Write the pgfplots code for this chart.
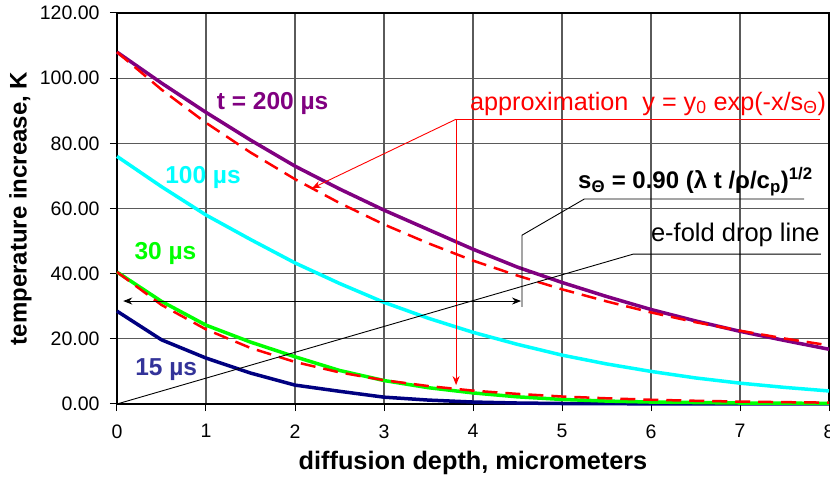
\documentclass[border=0pt]{standalone}
\usepackage{fontspec}
\setmainfont{Liberation Sans}
\usepackage{pgfplots}
\pgfplotsset{compat=1.18}
\usetikzlibrary{arrows.meta}

\definecolor{c200}{RGB}{128,0,128}
\definecolor{c100}{RGB}{0,255,255}
\definecolor{c30}{RGB}{0,255,0}
\definecolor{c15}{RGB}{0,0,128}
\definecolor{lab15}{RGB}{51,51,153}
\definecolor{gridc}{RGB}{90,90,90}

% temperature profiles, depth in micrometers
\pgfplotstableread{
x    T
0    108
0.5  98.5
1    89.5
1.5  81
2    73
2.5  66
3    59.5
3.5  53.5
4    47.5
4.5  42
5    37.3
5.5  33
6    29
6.5  25.5
7    22.3
7.5  19.5
8    16.8
}\tTwoHundred
\pgfplotstableread{
x    T
0    76
0.5  66.7
1    58
1.5  50.5
2    43.3
2.5  37
3    31.2
3.5  26.3
4    22
4.5  18.3
5    15
5.5  12.3
6    10
6.5  8
7    6.4
7.5  5.1
8    4
}\tHundred
\pgfplotstableread{
x    T
0    40.5
0.5  31.5
1    24.2
1.5  19
2    14.5
2.5  10.3
3    7.2
3.5  5
4    3.4
4.5  2.2
5    1.4
5.5  0.9
6    0.6
7    0.3
8    0.2
}\tThirty
\pgfplotstableread{
x    T
0    28.5
0.5  19.7
1    14.1
1.5  9.5
2    5.8
2.5  3.9
3    2.1
3.5  1.2
4    0.6
4.5  0.3
5    0.15
6    0.05
7    0
8    0
}\tFifteen
% exponential approximations y0 exp(-x/s)
\pgfplotstableread{
x    T
0    108
0.5  96.5
1    86.3
1.5  77.2
2    69.0
2.5  61.7
3    55.1
3.5  49.3
4    44.0
4.5  39.4
5    35.2
5.5  31.5
6    28.1
6.5  25.1
7    22.5
7.5  20.1
8    18.0
}\aTwoHundred
\pgfplotstableread{
x    T
0    40.5
0.5  30.4
1    22.9
1.5  17.2
2    12.9
2.5  9.7
3    7.3
3.5  5.5
4    4.1
4.5  3.1
5    2.3
5.5  1.75
6    1.3
6.5  0.99
7    0.74
7.5  0.56
8    0.42
}\aThirty

\begin{document}
\begin{tikzpicture}
\begin{axis}[
  name=ax,
  scale only axis, width=712pt, height=391pt,
  xmin=0, xmax=8, ymin=0, ymax=120,
  xtick={0,...,8}, ytick={0,20,...,120},
  tick pos=left,
  grid=major,
  major grid style={gridc, line width=1.1pt},
  axis line style={black, line width=1.2pt},
  tick align=outside, major tick length=7pt,
  tick style={black, line width=1pt},
  /pgf/number format/assume math mode=true,
  ticklabel style={font=\fontsize{19.5}{22}\selectfont},
  xticklabel style={yshift=-10pt},
  yticklabel style={xshift=-7pt, /pgf/number format/fixed, /pgf/number format/fixed zerofill, /pgf/number format/precision=2},
  xlabel={diffusion depth, micrometers},
  ylabel={temperature increase, K},
  every axis x label/.style={at={(axis description cs:0.5,-0.167)}, anchor=base, font=\bfseries\fontsize{25.3}{28}\selectfont},
  every axis y label/.style={at={(axis description cs:-0.1268,0.5)}, anchor=base, rotate=90, font=\bfseries\fontsize{24}{28}\selectfont},
  clip=false,
]
\addplot[c15, line width=3.5pt] table[x=x,y=T] {\tFifteen};
\addplot[c30, line width=3.5pt] table[x=x,y=T] {\tThirty};
\addplot[c100, line width=3.5pt] table[x=x,y=T] {\tHundred};
\addplot[c200, line width=3.5pt] table[x=x,y=T] {\tTwoHundred};
\addplot[red, line width=2.5pt, dash pattern=on 15pt off 8pt] table[x=x,y=T] {\aThirty};
\addplot[red, line width=2.5pt, dash pattern=on 15pt off 8pt] table[x=x,y=T] {\aTwoHundred};

% curve labels
\node[anchor=base west, inner sep=0, text=c200, font=\bfseries\fontsize{24.5}{28}\selectfont] at (axis cs:1.12,90.4) {t = 200 µs};
\node[anchor=base west, inner sep=0, text=c100, font=\bfseries\fontsize{24.5}{28}\selectfont] at (axis cs:0.54,67.7) {100 µs};
\node[anchor=base west, inner sep=0, text=c30, font=\bfseries\fontsize{24.5}{28}\selectfont] at (axis cs:0.195,44.2) {30 µs};
\node[anchor=base west, inner sep=0, text=lab15, font=\bfseries\fontsize{24.5}{28}\selectfont] at (axis cs:0.203,8.9) {15 µs};

% approximation callout
\node[anchor=base west, inner sep=0, text=red, font=\fontsize{25.2}{28}\selectfont] at (axis cs:3.966,90.2) {approximation\ \ y = y\textsubscript{0} exp(-x/s\textsubscript{Θ})};
\draw[red, line width=0.9pt] (axis cs:7.90,87.4) -- (axis cs:3.81,87.4);
\draw[red, line width=0.9pt, -{Stealth[length=9pt,width=7pt]}] (axis cs:3.81,87.4) -- (axis cs:2.19,66.2);
\draw[red, line width=0.9pt, -{Stealth[length=9pt,width=7pt]}] (axis cs:3.81,87.4) -- (axis cs:3.81,5.8);

% e-folding depth callout
\node[anchor=base west, inner sep=0, font=\bfseries\fontsize{24}{28}\selectfont] at (axis cs:5.18,66.2) {s\textsubscript{Θ} = 0.90 (λ t /ρ/c\textsubscript{p})\textsuperscript{1/2}};
\draw[black, line width=0.9pt] (axis cs:7.72,62.9) -- (axis cs:5.25,62.9) -- (axis cs:4.55,51.8) -- (axis cs:4.55,29.8);
\draw[black, line width=0.9pt, {Stealth[length=9pt,width=7pt]}-{Stealth[length=9pt,width=7pt]}] (axis cs:0.07,31.6) -- (axis cs:4.54,31.6);

% e-fold drop line
\node[anchor=base west, inner sep=0, font=\fontsize{25.5}{28}\selectfont] at (axis cs:5.998,49.8) {e-fold drop line};
\draw[black, line width=0.9pt] (axis cs:0,0) -- (axis cs:5.8,46) -- (axis cs:7.91,46);
\end{axis}
\pgfresetboundingbox
\path[use as bounding box] ([xshift=-117pt,yshift=-75pt]ax.south west) rectangle ([xshift=1pt,yshift=13pt]ax.north east);
\end{tikzpicture}
\end{document}
